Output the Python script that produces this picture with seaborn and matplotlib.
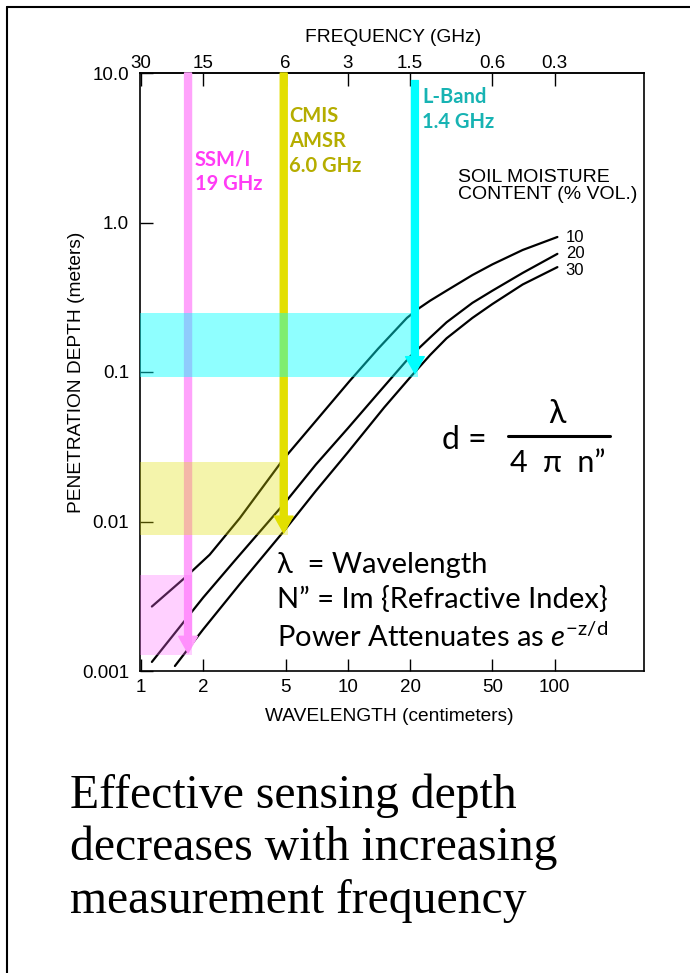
import matplotlib
matplotlib.use("Agg")
import matplotlib.pyplot as plt
from matplotlib.lines import Line2D
from matplotlib.ticker import NullLocator
import numpy as np
import pandas as pd
import seaborn as sns

# penetration depth (m) against wavelength (cm) for three soil moisture contents
wl_10 = [1.13, 1.63, 2.15, 3.0, 4.85, 7.0, 10.2, 14.0, 19.3, 22.0, 25.0, 30.0, 40.0, 50.0, 70.0, 103.0]
depth_10 = [0.0027, 0.0042, 0.0060, 0.0105, 0.0258, 0.047, 0.087, 0.143, 0.230, 0.266, 0.300, 0.350, 0.445, 0.525, 0.655, 0.80]
wl_20 = [1.13, 2.0, 2.85, 5.0, 7.0, 10.0, 14.0, 20.0, 25.0, 30.0, 40.0, 50.0, 70.0, 103.0]
depth_20 = [0.00115, 0.0031, 0.0055, 0.0135, 0.024, 0.042, 0.072, 0.127, 0.170, 0.215, 0.290, 0.350, 0.460, 0.617]
wl_30 = [1.46, 2.0, 3.0, 4.9, 7.0, 10.0, 15.0, 20.0, 25.0, 30.0, 40.0, 50.0, 70.0, 103.0]
depth_30 = [0.00108, 0.0019, 0.0038, 0.0086, 0.016, 0.029, 0.058, 0.092, 0.130, 0.168, 0.230, 0.285, 0.385, 0.503]
moisture = ["10", "20", "30"]
moisture_label_depth = [0.79, 0.625, 0.48]

x_ticks = [1, 2, 5, 10, 20, 50, 100]
x_ticklabels = ["1", "2", "5", "10", "20", "50", "100"]
y_ticks = [0.001, 0.01, 0.1, 1.0, 10.0]
y_ticklabels = ["0.001", "0.01", "0.1", "1.0", "10.0"]
freq_ticks = [30, 15, 6, 3, 1.5, 0.6, 0.3]
freq_ticklabels = ["30", "15", "6", "3", "1.5", "0.6", "0.3"]

# sensors: arrow wavelength, arrow start / tip depth, shaded depth range
band_names = ["SSM/I\n19 GHz", "CMIS\nAMSR\n6.0 GHz", "L-Band\n1.4 GHz"]
band_wl = [1.69, 4.9, 21.1]
band_top = [10.0, 10.0, 8.9]
band_tip = [0.00132, 0.0084, 0.098]
box_low = [0.00128, 0.0081, 0.093]
box_high = [0.0044, 0.025, 0.25]
box_right = [1.76, 5.13, 21.8]

arrow_colors = ["#ffa3fb", "#e3df00", "#00ffff"]
box_colors = ["#ff66ff", "#e0e000", "#00ffff"]
box_alpha = [0.30, 0.33, 0.44]
label_colors = ["#ff3cf5", "#b5ad00", "#17b3b3"]
label_pos = [(1.82, 3.1), (5.2, 6.0), (22.8, 8.0)]

XMIN, XMAX = 0.99, 270

sns.set_style("ticks")
plt.rcParams["font.family"] = ["Liberation Sans", "DejaVu Sans"]
plt.rcParams["text.color"] = "black"
plt.rcParams["axes.labelcolor"] = "black"
plt.rcParams["mathtext.fontset"] = "custom"
plt.rcParams["mathtext.rm"] = "Lato"
plt.rcParams["mathtext.it"] = "Lato:italic"

fig = plt.figure(figsize=(6.9, 9.73), dpi=100)
ax = fig.add_axes([140 / 690, 1 - 671 / 973, 504 / 690, 598 / 973])

df = pd.concat([
    pd.DataFrame({"wavelength": w, "depth": d, "moisture": m})
    for w, d, m in zip([wl_10, wl_20, wl_30], [depth_10, depth_20, depth_30], moisture)
])
sns.lineplot(data=df, x="wavelength", y="depth", hue="moisture", palette=["black"] * 3,
             legend=False, sort=False, estimator=None, lw=1.6, ax=ax, zorder=3)

ax.set_xscale("log")
ax.set_yscale("log")
ax.set_xlim(XMIN, XMAX)
ax.set_ylim(0.001, 10)

for i in range(3):
    ax.fill_betweenx([box_low[i], box_high[i]], XMIN, box_right[i],
                     color=box_colors[i], alpha=box_alpha[i], lw=0, zorder=5)
    ax.annotate("", xy=(band_wl[i], band_tip[i]), xytext=(band_wl[i], band_top[i]),
                arrowprops=dict(arrowstyle="simple,head_length=1.2,head_width=1.35,tail_width=0.5",
                                color=arrow_colors[i], mutation_scale=10, shrinkA=0, shrinkB=0),
                zorder=4, annotation_clip=False)
    ax.text(label_pos[i][0], label_pos[i][1], band_names[i], color=label_colors[i],
            family=["Lato", "DejaVu Sans"], fontweight="bold", fontsize=14.5,
            va="top", ha="left", linespacing=1.3, zorder=6)

for d, m in zip(moisture_label_depth, moisture):
    ax.text(113, d, m, fontsize=12, va="center", ha="left")

ax.text(34, 1.75, "SOIL MOISTURE\nCONTENT (% VOL.)", fontsize=14, va="center",
        ha="left", linespacing=0.95)

ax.set_xticks(x_ticks, labels=x_ticklabels)
ax.set_yticks(y_ticks, labels=y_ticklabels)
ax.xaxis.set_minor_locator(NullLocator())
ax.yaxis.set_minor_locator(NullLocator())
ax.tick_params(direction="in", length=9, width=1, labelsize=13.5, pad=6,
               colors="black")
ax.tick_params(axis="y", pad=8)
for s in ax.spines.values():
    s.set_linewidth(1.2)
    s.set_color("black")

ax.set_xlabel("WAVELENGTH (centimeters)", fontsize=13.8)
ax.xaxis.set_label_coords(0.494, -0.062)
ax.set_ylabel("PENETRATION DEPTH (meters)", fontsize=13.8)
ax.yaxis.set_label_coords(-0.11, 0.5)

to_freq = lambda x: 30 / np.maximum(x, 1e-9)
secax = ax.secondary_xaxis("top", functions=(to_freq, to_freq))
secax.set_xticks(freq_ticks, labels=freq_ticklabels)
secax.xaxis.set_minor_locator(NullLocator())
secax.tick_params(direction="in", length=9, width=1, labelsize=13.5, pad=1,
                  colors="black")
secax.spines["top"].set_linewidth(1.2)
fig.text(393 / 690, 1 - 37 / 973, "FREQUENCY (GHz)", fontsize=13.8, ha="center", va="center")

# formula and notes
sans = ["Lato", "Open Sans", "DejaVu Sans"]
fig.text(464 / 690, 1 - 440 / 973, "d =", fontsize=23, family=sans, ha="center", va="center")
fig.text(557 / 690, 1 - 414 / 973, "λ", fontsize=23, family=sans, ha="center", va="center")
fig.add_artist(Line2D([508 / 690, 610 / 690], [1 - 436 / 973] * 2, color="black", lw=2.2))
fig.text(558 / 690, 1 - 463 / 973, "4  π  n\u201d", fontsize=22, family=sans, ha="center",
         va="center")

fig.text(277 / 690, 1 - 565 / 973, "λ  = Wavelength", fontsize=21, family=sans, va="center")
fig.text(277 / 690, 1 - 600 / 973, "N\u201d = Im {Refractive Index}", fontsize=21, family=sans,
         va="center")
fig.text(277 / 690, 1 - 637 / 973, r"Power Attenuates as $e^{\mathrm{-z/d}}$", fontsize=21,
         family="Lato", va="center")

caption = ["Effective sensing depth", "decreases with increasing", "measurement frequency"]
for k, line in enumerate(caption):
    fig.text(70 / 690, 1 - (808 + 52.5 * k) / 973, line, fontsize=34.3,
             family="Liberation Serif", va="baseline", ha="left")

# page border
fig.add_artist(Line2D([7 / 690, 7 / 690], [0, 1 - 7 / 973], color="black", lw=1.5))
fig.add_artist(Line2D([7 / 690, 1], [1 - 7 / 973] * 2, color="black", lw=1.5))

fig.savefig("out.png", dpi=100)
